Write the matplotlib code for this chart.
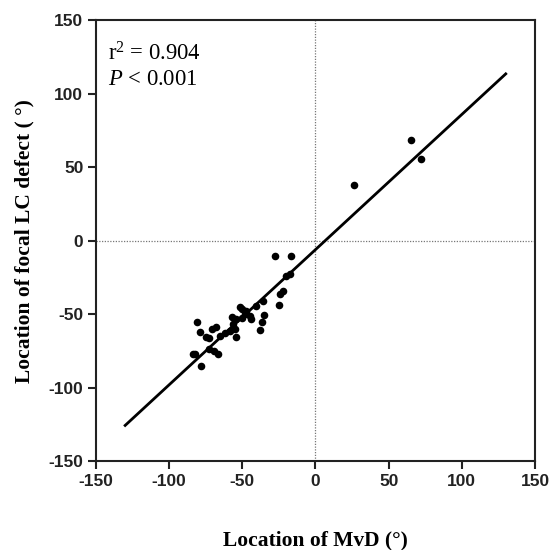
import matplotlib.pyplot as plt
import numpy as np

plt.rcParams["axes.unicode_minus"] = False
plt.rcParams["mathtext.fontset"] = "custom"
plt.rcParams["mathtext.rm"] = "Liberation Serif"
plt.rcParams["mathtext.it"] = "Liberation Serif:italic"

# scatter values (degrees)
mvd_loc = [
    -27.8, -16.9, -19.8, -17.6, -22.1, -24.4, -24.9, -35.8, -35.4, -36.2,
    -38.1, -40.3, -43.8, -44.9, -51.8, -50.0, -47.2, -48.3, -50.5, -54.0,
    -56.8, -56.3, -55.2, -54.0, -58.6, -62.0, -65.4, -67.7, -70.4, -74.5,
    -73.0, -79.1, -81.0, -72.8, -69.5, -66.6, -83.7, -82.5, -78.0,
    26.2, 65.6, 72.2,
]
lc_loc = [
    -10.2, -10.2, -23.9, -22.7, -34.1, -36.3, -43.8, -40.9, -50.6, -55.2,
    -60.7, -44.3, -52.9, -51.2, -44.7, -46.5, -47.7, -50.0, -52.5, -53.4,
    -51.6, -56.8, -60.2, -65.2, -61.4, -62.5, -64.8, -58.4, -60.2, -65.2,
    -66.0, -61.7, -55.2, -73.4, -74.7, -77.2, -76.8, -76.8, -85.2,
    38.0, 68.6, 55.9,
]

# regression line end points
fit_x = [-130, 130]
fit_y = [-125.5, 113.6]

ticks = [-150, -100, -50, 0, 50, 100, 150]

fig = plt.figure(figsize=(5.51, 5.5), dpi=100)
ax = fig.add_axes([0.174, 0.161, 0.797, 0.802])

ax.axhline(0, color="#777777", lw=0.9, ls=(0, (1, 1.2)), zorder=1)
ax.axvline(0, color="#777777", lw=0.9, ls=(0, (1, 1.2)), zorder=1)

ax.plot(fit_x, fit_y, color="black", lw=2.0, zorder=2)
ax.scatter(mvd_loc, lc_loc, s=30, color="black", zorder=3, linewidths=0)

ax.set_xlim(-150, 150)
ax.set_ylim(-150, 150)
ax.set_xticks(ticks)
ax.set_yticks(ticks)
for spine in ax.spines.values():
    spine.set_linewidth(1.5)
    spine.set_color("#222222")
ax.tick_params(direction="out", length=6, width=1.5, color="#222222", pad=3)
for lab in ax.get_xticklabels() + ax.get_yticklabels():
    lab.set_fontfamily("Liberation Sans")
    lab.set_fontweight("bold")
    lab.set_fontsize(12.5)
    lab.set_color("#222222")

ax.set_xlabel("Location of MvD (°)", family="Liberation Serif", fontweight="bold",
              fontsize=15.5, labelpad=30)
ax.set_ylabel("Location of focal LC defect ( °)", family="Liberation Serif",
              fontweight="bold", fontsize=15.5, labelpad=10)

ax.text(0.027, 0.910, r"r$^{2}$ = 0.904", transform=ax.transAxes, va="baseline",
        family="Liberation Serif", fontsize=16.3)
ax.text(0.027, 0.853, r"$P$ < 0.001", transform=ax.transAxes, va="baseline",
        family="Liberation Serif", fontsize=16.3)

fig.savefig("out.png", dpi=100)
